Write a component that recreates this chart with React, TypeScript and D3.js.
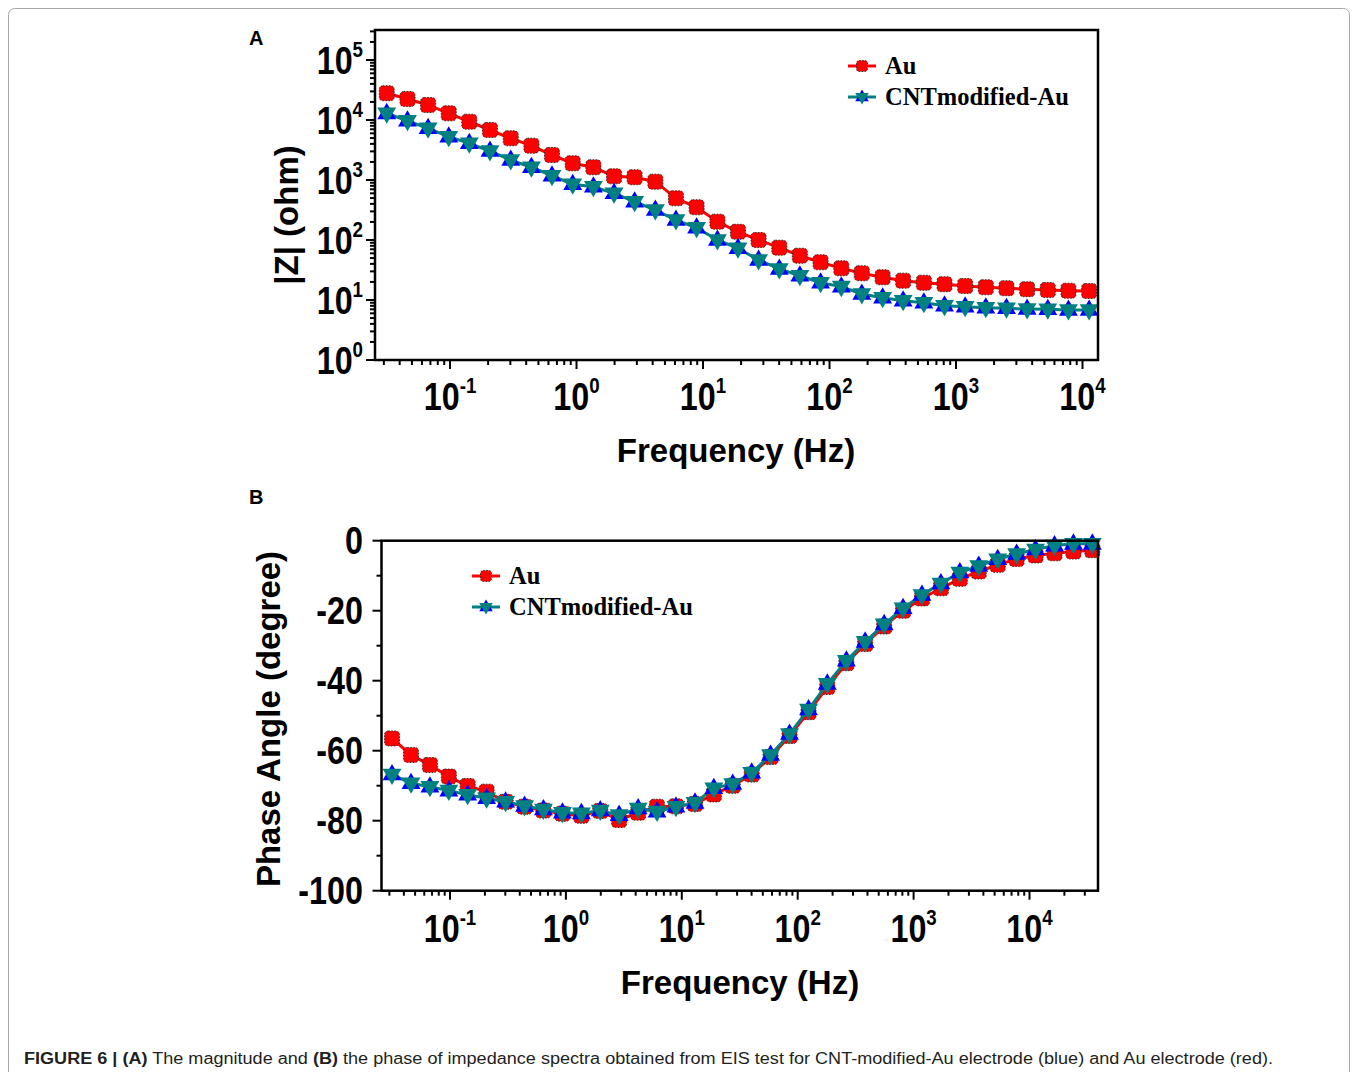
import React from "react";
import * as d3 from "d3";

// measured frequencies (Hz), shared by both panels
const freqs = [0.0316, 0.0461, 0.0671, 0.0977, 0.142, 0.207, 0.302, 0.44, 0.64, 0.933, 1.36, 1.98, 2.88, 4.2, 6.11, 8.9, 13.0, 18.9, 27.5, 40.1, 58.3, 85.0, 124, 180, 263, 382, 557, 811, 1181, 1720, 2506, 3650, 5316, 7743, 11280, 16430, 23930, 34850];

// |Z| (ohm), panel A
const zAu = [27900, 22400, 17800, 12900, 9380, 6810, 4950, 3730, 2610, 1900, 1630, 1150, 1110, 938, 495, 351, 202, 137, 100, 74.5, 54.7, 42.5, 33.7, 27.9, 23.9, 21.0, 19.4, 18.3, 17.1, 16.3, 15.7, 15.1, 14.7, 14.3, 14.1];
const zCnt = [12900, 9730, 7270, 5270, 4090, 3040, 2150, 1630, 1180, 848, 773, 600, 435, 316, 215, 160, 100, 72.7, 46.4, 32.9, 25.4, 19.4, 16.7, 12.6, 10.9, 9.73, 9.02, 8.04, 7.73, 7.44, 7.27, 7.08, 7.0, 6.81, 6.81];

// phase angle (degree), panel B
const phaseAu = [-56.5, -61.2, -64.1, -67.4, -70.1, -71.7, -74.6, -76.0, -77.1, -78.0, -78.6, -77.2, -79.8, -77.7, -76.0, -75.9, -75.2, -72.5, -70.0, -66.8, -61.8, -55.8, -49.0, -41.8, -35.0, -29.5, -24.5, -20.0, -16.5, -13.6, -10.9, -8.8, -6.9, -5.2, -4.2, -3.6, -3.1, -2.7];
const phaseCnt = [-66.8, -69.3, -70.3, -71.4, -72.6, -73.6, -74.6, -75.8, -76.8, -77.7, -77.9, -77.1, -78.4, -76.5, -77.4, -76.0, -74.9, -70.7, -69.5, -66.3, -61.2, -55.2, -48.2, -40.9, -34.3, -28.9, -23.9, -19.3, -15.5, -12.2, -9.1, -7.2, -5.3, -3.8, -2.5, -1.4, -0.9, -0.9];

const seriesNames = ["Au", "CNTmodified-Au"];
const phaseTicks = [0, -20, -40, -60, -80, -100];
const phaseMinor = [-10, -30, -50, -70, -90];

const RED = "#ff0000";
const TEAL = "#008080";
const BLUE = "#0000ff";
const SANS = "'Liberation Sans', Arial, sans-serif";
const SERIF = "'Liberation Serif', 'Times New Roman', serif";

function AuMarker({ x, y, s = 7.5 }: { x: number; y: number; s?: number }) {
  return (
    <rect x={x - s} y={y - s} width={2 * s} height={2 * s} rx={s * 0.5}
      fill={RED} stroke="#222" strokeWidth={0.9} strokeDasharray="1.5,1.5" />
  );
}

function CntMarker({ x, y, s = 10.5 }: { x: number; y: number; s?: number }) {
  const up = `${x},${y - s} ${x + s * 0.9},${y + s * 0.55} ${x - s * 0.9},${y + s * 0.55}`;
  const dn = `${x},${y + s} ${x + s * 0.9},${y - s * 0.55} ${x - s * 0.9},${y - s * 0.55}`;
  return (
    <g>
      <polygon points={up} fill={BLUE} />
      <polygon points={dn} fill={TEAL} />
    </g>
  );
}

function Pow({ x, y, exp, anchor }: { x: number; y: number; exp: number; anchor: string }) {
  return (
    <g transform={`translate(${x},${y}) scale(0.85,1)`}>
      <text x={0} y={0} textAnchor={anchor} fontFamily={SANS} fontWeight="bold" fontSize={38} fill="#000">
        10<tspan dy={-17} fontSize={22}>{exp}</tspan>
      </text>
    </g>
  );
}

function Legend({ x, y, gap }: { x: number; y: number; gap: number }) {
  return (
    <g>
      <line x1={x} x2={x + 28} y1={y} y2={y} stroke={RED} strokeWidth={3} />
      <AuMarker x={x + 14} y={y} s={5.5} />
      <text x={x + 37} y={y + 8} fontFamily={SERIF} fontWeight="bold" fontSize={24.5}>{seriesNames[0]}</text>
      <line x1={x} x2={x + 28} y1={y + gap} y2={y + gap} stroke={TEAL} strokeWidth={3} />
      <CntMarker x={x + 14} y={y + gap} s={7.5} />
      <text x={x + 37} y={y + gap + 8} fontFamily={SERIF} fontWeight="bold" fontSize={24.5}>{seriesNames[1]}</text>
    </g>
  );
}

function isMajor(v: number) {
  const l = Math.log10(v);
  return Math.abs(l - Math.round(l)) < 1e-6;
}

function XLogAxis({ scale, y0, labelY }: { scale: d3.ScaleLogarithmic<number, number>; y0: number; labelY: number }) {
  const ticks = scale.ticks();
  return (
    <g>
      {ticks.map((t, i) => {
        const m = isMajor(t);
        return <line key={i} x1={scale(t)} x2={scale(t)} y1={y0} y2={y0 + (m ? 9 : 5)} stroke="#000" strokeWidth={2} />;
      })}
      {ticks.filter(isMajor).map((t, i) => (
        <Pow key={"l" + i} x={scale(t)} y={labelY} exp={Math.round(Math.log10(t))} anchor="middle" />
      ))}
    </g>
  );
}

function Frame({ x0, x1, y0, y1 }: { x0: number; x1: number; y0: number; y1: number }) {
  return <rect x={x0} y={y0} width={x1 - x0} height={y1 - y0} fill="none" stroke="#000" strokeWidth={2.5} />;
}

export default function App() {
  // panel A
  const ax0 = 375, ax1 = 1098, ay0 = 30, ay1 = 360;
  const xA = d3.scaleLog().domain([Math.pow(10, -1.593), Math.pow(10, 4.1225)]).range([ax0, ax1]);
  const yA = d3.scaleLog().domain([1, Math.pow(10, 5.5)]).range([ay1, ay0]);
  const lineA = d3.line<[number, number]>().x(d => xA(d[0])).y(d => yA(d[1]));
  const auA: [number, number][] = zAu.map((v, i) => [freqs[i], v]);
  const cntA: [number, number][] = zCnt.map((v, i) => [freqs[i], v]);
  const yATicks = yA.ticks();

  // panel B
  const bx0 = 381.5, bx1 = 1098, by0 = 540.7, by1 = 890.7;
  const xB = d3.scaleLog().domain([Math.pow(10, -1.591), Math.pow(10, 4.591)]).range([bx0, bx1]);
  const yB = d3.scaleLinear().domain([-100, 0]).range([by1, by0]);
  const lineB = d3.line<[number, number]>().x(d => xB(d[0])).y(d => yB(d[1]));
  const auB: [number, number][] = phaseAu.map((v, i) => [freqs[i], v]);
  const cntB: [number, number][] = phaseCnt.map((v, i) => [freqs[i], v]);

  return (
    <svg width={1358} height={1072} style={{ position: "absolute", left: 0, top: 0, background: "#fff" }}>
      <rect x={8.5} y={8.5} width={1341} height={1100} rx={6} fill="#fff" stroke="#a8a8a8" strokeWidth={1} />

      {/* ---------- panel A ---------- */}
      <text x={249} y={45} fontFamily={SANS} fontWeight="bold" fontSize={20}>A</text>
      {yATicks.map((t, i) => {
        const m = isMajor(t);
        return <line key={i} x1={ax0 - (m ? 9 : 5)} x2={ax0} y1={yA(t)} y2={yA(t)} stroke="#000" strokeWidth={2} />;
      })}
      {yATicks.filter(isMajor).map((t, i) => (
        <Pow key={i} x={363} y={yA(t) + 13.5} exp={Math.round(Math.log10(t))} anchor="end" />
      ))}
      <XLogAxis scale={xA} y0={ay1} labelY={410} />
      <path d={lineA(auA) || ""} fill="none" stroke={RED} strokeWidth={3} />
      {auA.map((d, i) => <AuMarker key={i} x={xA(d[0])} y={yA(d[1])} />)}
      <path d={lineA(cntA) || ""} fill="none" stroke={TEAL} strokeWidth={3} />
      {cntA.map((d, i) => <CntMarker key={i} x={xA(d[0])} y={yA(d[1])} />)}
      <Frame x0={ax0} x1={ax1} y0={ay0} y1={ay1} />
      <Legend x={848} y={66} gap={31} />
      <text transform="translate(298,215) rotate(-90)" textAnchor="middle" fontFamily={SANS} fontWeight="bold" fontSize={33}>|Z| (ohm)</text>
      <text x={736} y={462} textAnchor="middle" fontFamily={SANS} fontWeight="bold" fontSize={33}>Frequency (Hz)</text>

      {/* ---------- panel B ---------- */}
      <text x={249} y={504} fontFamily={SANS} fontWeight="bold" fontSize={20}>B</text>
      {phaseTicks.map((t, i) => (
        <g key={i}>
          <line x1={bx0 - 9} x2={bx0} y1={yB(t)} y2={yB(t)} stroke="#000" strokeWidth={2} />
          <g transform={`translate(363,${yB(t) + 13.5}) scale(0.85,1)`}>
            <text textAnchor="end" fontFamily={SANS} fontWeight="bold" fontSize={38}>{t}</text>
          </g>
        </g>
      ))}
      {phaseMinor.map((t, i) => (
        <line key={"m" + i} x1={bx0 - 5} x2={bx0} y1={yB(t)} y2={yB(t)} stroke="#000" strokeWidth={2} />
      ))}
      <XLogAxis scale={xB} y0={by1} labelY={942} />
      <path d={lineB(auB) || ""} fill="none" stroke={RED} strokeWidth={3} />
      {auB.map((d, i) => <AuMarker key={i} x={xB(d[0])} y={yB(d[1])} />)}
      <path d={lineB(cntB) || ""} fill="none" stroke={TEAL} strokeWidth={3} />
      {cntB.map((d, i) => <CntMarker key={i} x={xB(d[0])} y={yB(d[1])} />)}
      <Frame x0={bx0} x1={bx1} y0={by0} y1={by1} />
      <Legend x={472} y={576} gap={31} />
      <text transform="translate(280,719) rotate(-90)" textAnchor="middle" fontFamily={SANS} fontWeight="bold" fontSize={33}>Phase Angle (degree)</text>
      <text x={740} y={994} textAnchor="middle" fontFamily={SANS} fontWeight="bold" fontSize={33}>Frequency (Hz)</text>

      {/* ---------- caption ---------- */}
      <text x={24} y={1064} fontFamily={SANS} fontSize={16} fill="#231f20" textLength={1249} lengthAdjust="spacingAndGlyphs">
        <tspan fontWeight="bold">FIGURE 6 | (A)</tspan> The magnitude and <tspan fontWeight="bold">(B)</tspan> the phase of impedance spectra obtained from EIS test for CNT-modified-Au electrode (blue) and Au electrode (red).
      </text>
    </svg>
  );
}
